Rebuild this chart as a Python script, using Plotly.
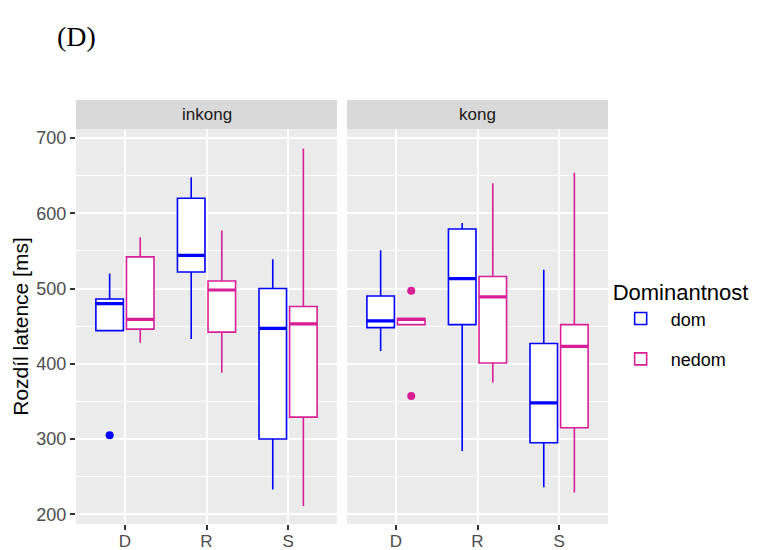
import plotly.graph_objects as go

categories = ["D", "R", "S"]
facets = ["inkong", "kong"]
groups = ["dom", "nedom"]
colors = {"dom": "#0000FF", "nedom": "#D81E96"}

# box stats per facet / group, ordered D, R, S
lower = {
    ("inkong", "dom"): [444, 433, 233],
    ("inkong", "nedom"): [428, 388, 211],
    ("kong", "dom"): [417, 284, 236],
    ("kong", "nedom"): [452, 375, 229],
}
q1 = {
    ("inkong", "dom"): [444, 522, 300],
    ("inkong", "nedom"): [446, 442, 329],
    ("kong", "dom"): [448, 452, 295],
    ("kong", "nedom"): [452, 401, 315],
}
median = {
    ("inkong", "dom"): [480, 544, 447],
    ("inkong", "nedom"): [459, 498, 453],
    ("kong", "dom"): [457, 513, 348],
    ("kong", "nedom"): [459, 489, 423],
}
q3 = {
    ("inkong", "dom"): [486, 620, 500],
    ("inkong", "nedom"): [542, 510, 476],
    ("kong", "dom"): [490, 579, 427],
    ("kong", "nedom"): [460, 516, 452],
}
upper = {
    ("inkong", "dom"): [520, 648, 539],
    ("inkong", "nedom"): [568, 577, 686],
    ("kong", "dom"): [551, 587, 525],
    ("kong", "nedom"): [460, 640, 654],
}
outliers = {
    ("inkong", "dom"): (["D"], [305]),
    ("kong", "nedom"): (["D", "D"], [497, 357]),
}

fig = go.Figure()
axes = {"inkong": ("x", "y"), "kong": ("x2", "y2")}
for f in facets:
    xa, ya = axes[f]
    for g in groups:
        k = (f, g)
        fig.add_trace(go.Box(
            x=categories, q1=q1[k], median=median[k], q3=q3[k],
            lowerfence=lower[k], upperfence=upper[k],
            name=g, legendgroup=g, showlegend=(f == "inkong"),
            offsetgroup=g, alignmentgroup="a", whiskerwidth=0,
            line=dict(color=colors[g], width=1.6),
            fillcolor="white", boxpoints=False,
            xaxis=xa, yaxis=ya, hoverinfo="skip",
        ))
    # thick median bars (zero-height boxes at the median)
    for g in groups:
        k = (f, g)
        fig.add_trace(go.Box(
            x=categories, q1=median[k], median=median[k], q3=median[k],
            lowerfence=median[k], upperfence=median[k],
            name=g, legendgroup=g, showlegend=False,
            offsetgroup=g, alignmentgroup="a", whiskerwidth=0,
            line=dict(color=colors[g], width=3.2),
            fillcolor="rgba(0,0,0,0)", boxpoints=False,
            xaxis=xa, yaxis=ya, hoverinfo="skip",
        ))
    for g in groups:
        k = (f, g)
        if k in outliers:
            ox, oy = outliers[k]
            fig.add_trace(go.Scatter(
                x=ox, y=oy, mode="markers", showlegend=False,
                offsetgroup=g, alignmentgroup="a",
                marker=dict(color=colors[g], size=8),
                xaxis=xa, yaxis=ya, hoverinfo="skip",
            ))

ydom = [0, (524 - 129) / 424]
tickfont = dict(family="Liberation Sans, Arial", size=18, color="#4D4D4D")
xcommon = dict(
    type="category", categoryorder="array", categoryarray=categories,
    range=[-0.6, 2.6], showgrid=True, gridcolor="white", gridwidth=1.8,
    ticks="outside", ticklen=5, tickcolor="#333333", tickwidth=1.5,
    tickfont=dict(family="Liberation Sans, Arial", size=17, color="#4D4D4D"),
    ticklabelstandoff=-3,
    zeroline=False, showline=False, automargin=False,
)
ycommon = dict(
    range=[187, 712], dtick=100, tick0=0, showgrid=True, gridcolor="white",
    gridwidth=1.8, zeroline=False, showline=False, automargin=False,
    minor=dict(dtick=50, tick0=0, showgrid=True, gridcolor="white", gridwidth=0.9),
    domain=ydom,
)
fig.update_layout(
    width=784, height=550,
    margin=dict(l=76, r=176, t=100, b=26),
    paper_bgcolor="white", plot_bgcolor="#EBEBEB",
    boxmode="group", boxgap=0.25, boxgroupgap=0.1,
    scattermode="group", scattergap=0.25,
    xaxis=dict(domain=[0, 261 / 532], **xcommon),
    xaxis2=dict(domain=[271 / 532, 1], anchor="y2", **xcommon),
    yaxis=dict(ticks="outside", ticklen=5, tickcolor="#333333", tickwidth=1.5,
               tickfont=tickfont, anchor="x",
               title=dict(text="Rozdíl latence [ms]",
                          font=dict(family="Liberation Sans, Arial", size=21, color="black"),
                          standoff=2),
               **ycommon),
    yaxis2=dict(anchor="x2", matches="y", showticklabels=False, ticks="", **ycommon),
    legend=dict(
        title=dict(text="Dominantnost",
                   font=dict(family="Liberation Sans, Arial", size=22, color="black")),
        font=dict(family="Liberation Sans, Arial", size=18, color="black"),
        x=1.005, xanchor="left", y=0.47, yanchor="middle",
        tracegroupgap=14, itemwidth=50, bgcolor="rgba(0,0,0,0)",
    ),
    showlegend=True,
)

# facet strips
strip_y0 = ydom[1]
for dom, label in [((0, 261 / 532), "inkong"), ((271 / 532, 1), "kong")]:
    fig.add_shape(type="rect", xref="paper", yref="paper",
                  x0=dom[0], x1=dom[1], y0=strip_y0, y1=1,
                  fillcolor="#D9D9D9", line=dict(width=0), layer="below")
    fig.add_annotation(text=label, xref="paper", yref="paper",
                       x=(dom[0] + dom[1]) / 2, y=(strip_y0 + 1) / 2,
                       showarrow=False, xanchor="center", yanchor="middle",
                       font=dict(family="Liberation Sans, Arial", size=17, color="#1A1A1A"))

fig.add_annotation(text="(D)", xref="paper", yref="paper",
                   x=-76 / 532 + 55 / 532, y=1 + (100 - 36) / 424,
                   xanchor="left", yanchor="middle", showarrow=False,
                   font=dict(family="Liberation Serif, Times New Roman", size=28, color="black"))

fig.write_html("out.html")
